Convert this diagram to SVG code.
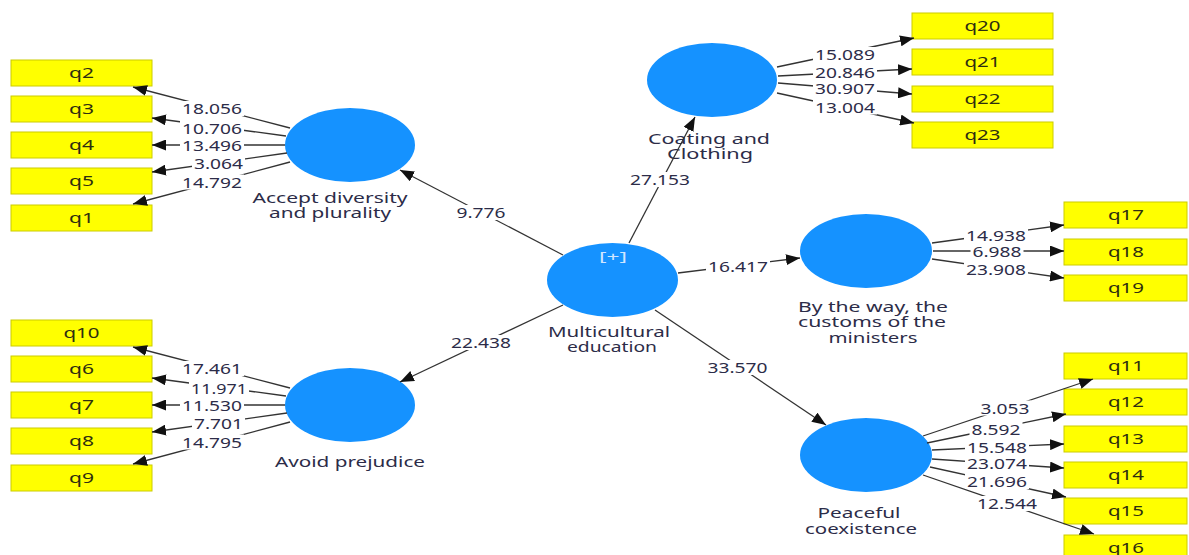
<svg xmlns="http://www.w3.org/2000/svg" width="1189" height="555" viewBox="0 0 1189 555">
<style>
.bg{fill:#ffffff}
.ind rect{fill:#ffff00;stroke:#cccc00;stroke-width:1}
.ind text{font-family:"Noto Sans","Liberation Sans",sans-serif;font-size:14px;fill:#2e2e10;text-anchor:middle}
.lv ellipse{fill:#1592ff}
.lv text{font-family:"Noto Sans","Liberation Sans",sans-serif;font-size:15px;fill:#2c2c48;text-anchor:middle}
.lv text.plus{fill:#cfe6ff;font-size:13px}
.edges line{stroke:#333333;stroke-width:1.3;marker-end:url(#ah)}
.lbl rect{fill:#ffffff}
.lbl text{font-family:"Noto Sans","Liberation Sans",sans-serif;font-size:15px;fill:#2c2c48;text-anchor:middle}
</style>
<defs>
<marker id="ah" viewBox="0 0 14 11" refX="14" refY="5.5" markerWidth="14" markerHeight="11" markerUnits="userSpaceOnUse" orient="auto">
<path d="M0,0 L14,5.5 L0,11 z" fill="#111111"/>
</marker>
</defs>
<rect class="bg" x="0" y="0" width="1189" height="555"/>

<!-- Latent variables -->
<g id="accept" class="lv">
<ellipse cx="350" cy="145" rx="65" ry="37"/>
<text x="330" y="203" textLength="155" lengthAdjust="spacingAndGlyphs">Accept diversity</text>
<text x="330" y="218" textLength="122" lengthAdjust="spacingAndGlyphs">and plurality</text>
</g>
<g id="avoid" class="lv">
<ellipse cx="350" cy="405" rx="65" ry="37"/>
<text x="350" y="467" textLength="150" lengthAdjust="spacingAndGlyphs">Avoid prejudice</text>
</g>
<g id="coating" class="lv">
<ellipse cx="712" cy="80" rx="65" ry="37"/>
<text x="709" y="144" textLength="122" lengthAdjust="spacingAndGlyphs">Coating and</text>
<text x="710" y="159" textLength="86" lengthAdjust="spacingAndGlyphs">Clothing</text>
</g>
<g id="multicultural" class="lv">
<ellipse cx="612.5" cy="280" rx="65.5" ry="37"/>
<text class="plus" x="613" y="261" textLength="28" lengthAdjust="spacingAndGlyphs">[+]</text>
<text x="609" y="337" textLength="122" lengthAdjust="spacingAndGlyphs">Multicultural</text>
<text x="612" y="352" textLength="90" lengthAdjust="spacingAndGlyphs">education</text>
</g>
<g id="bytheway" class="lv">
<ellipse cx="866" cy="251" rx="66" ry="37"/>
<text x="873" y="312" textLength="150" lengthAdjust="spacingAndGlyphs">By the way, the</text>
<text x="872" y="327" textLength="148" lengthAdjust="spacingAndGlyphs">customs of the</text>
<text x="873" y="343" textLength="89" lengthAdjust="spacingAndGlyphs">ministers</text>
</g>
<g id="peaceful" class="lv">
<ellipse cx="866" cy="455" rx="66" ry="37"/>
<text x="859" y="518" textLength="83" lengthAdjust="spacingAndGlyphs">Peaceful</text>
<text x="861" y="534" textLength="112" lengthAdjust="spacingAndGlyphs">coexistence</text>
</g>

<!-- Indicators -->
<g id="q2" class="ind"><rect x="11" y="60" width="141" height="26"/><text x="81.5" y="78" textLength="25" lengthAdjust="spacingAndGlyphs">q2</text></g>
<g id="q3" class="ind"><rect x="11" y="96" width="141" height="26"/><text x="81.5" y="114" textLength="25" lengthAdjust="spacingAndGlyphs">q3</text></g>
<g id="q4" class="ind"><rect x="11" y="132" width="141" height="26"/><text x="81.5" y="150" textLength="25" lengthAdjust="spacingAndGlyphs">q4</text></g>
<g id="q5" class="ind"><rect x="11" y="168" width="141" height="26"/><text x="81.5" y="186" textLength="25" lengthAdjust="spacingAndGlyphs">q5</text></g>
<g id="q1" class="ind"><rect x="11" y="205" width="141" height="26"/><text x="81.5" y="223" textLength="25" lengthAdjust="spacingAndGlyphs">q1</text></g>

<g id="q10" class="ind"><rect x="11" y="320" width="141" height="26"/><text x="81.5" y="338" textLength="36" lengthAdjust="spacingAndGlyphs">q10</text></g>
<g id="q6" class="ind"><rect x="11" y="356" width="141" height="26"/><text x="81.5" y="374" textLength="25" lengthAdjust="spacingAndGlyphs">q6</text></g>
<g id="q7" class="ind"><rect x="11" y="392" width="141" height="26"/><text x="81.5" y="410" textLength="25" lengthAdjust="spacingAndGlyphs">q7</text></g>
<g id="q8" class="ind"><rect x="11" y="428" width="141" height="26"/><text x="81.5" y="446" textLength="25" lengthAdjust="spacingAndGlyphs">q8</text></g>
<g id="q9" class="ind"><rect x="11" y="465" width="141" height="26"/><text x="81.5" y="483" textLength="25" lengthAdjust="spacingAndGlyphs">q9</text></g>

<g id="q20" class="ind"><rect x="912" y="13" width="141" height="26"/><text x="982.5" y="31" textLength="36" lengthAdjust="spacingAndGlyphs">q20</text></g>
<g id="q21" class="ind"><rect x="912" y="49" width="141" height="26"/><text x="982.5" y="67" textLength="36" lengthAdjust="spacingAndGlyphs">q21</text></g>
<g id="q22" class="ind"><rect x="912" y="86" width="141" height="26"/><text x="982.5" y="104" textLength="36" lengthAdjust="spacingAndGlyphs">q22</text></g>
<g id="q23" class="ind"><rect x="912" y="122" width="141" height="26"/><text x="982.5" y="140" textLength="36" lengthAdjust="spacingAndGlyphs">q23</text></g>

<g id="q17" class="ind"><rect x="1064" y="202" width="123" height="26"/><text x="1126" y="220" textLength="36" lengthAdjust="spacingAndGlyphs">q17</text></g>
<g id="q18" class="ind"><rect x="1064" y="239" width="123" height="26"/><text x="1126" y="257" textLength="36" lengthAdjust="spacingAndGlyphs">q18</text></g>
<g id="q19" class="ind"><rect x="1064" y="275" width="123" height="26"/><text x="1126" y="293" textLength="36" lengthAdjust="spacingAndGlyphs">q19</text></g>

<g id="q11" class="ind"><rect x="1064" y="353" width="123" height="26"/><text x="1126" y="371" textLength="36" lengthAdjust="spacingAndGlyphs">q11</text></g>
<g id="q12" class="ind"><rect x="1064" y="389" width="123" height="26"/><text x="1126" y="407" textLength="36" lengthAdjust="spacingAndGlyphs">q12</text></g>
<g id="q13" class="ind"><rect x="1064" y="426" width="123" height="26"/><text x="1126" y="444" textLength="36" lengthAdjust="spacingAndGlyphs">q13</text></g>
<g id="q14" class="ind"><rect x="1064" y="462" width="123" height="26"/><text x="1126" y="480" textLength="36" lengthAdjust="spacingAndGlyphs">q14</text></g>
<g id="q15" class="ind"><rect x="1064" y="498" width="123" height="26"/><text x="1126" y="516" textLength="36" lengthAdjust="spacingAndGlyphs">q15</text></g>
<g id="q16" class="ind"><rect x="1064" y="535" width="123" height="26"/><text x="1126" y="553" textLength="36" lengthAdjust="spacingAndGlyphs">q16</text></g>

<!-- Connectors -->
<g id="connectors" class="edges">
<line x1="290" y1="128" x2="133" y2="87"/>
<line x1="286" y1="136" x2="152" y2="118"/>
<line x1="285" y1="145" x2="152" y2="145"/>
<line x1="287" y1="153" x2="152" y2="172"/>
<line x1="290" y1="162" x2="133" y2="204"/>

<line x1="290" y1="388" x2="133" y2="347"/>
<line x1="286" y1="396" x2="152" y2="378"/>
<line x1="285" y1="405" x2="152" y2="405"/>
<line x1="287" y1="413" x2="152" y2="432"/>
<line x1="290" y1="422" x2="133" y2="464"/>

<line x1="777" y1="67" x2="914" y2="38"/>
<line x1="778" y1="76" x2="912" y2="69"/>
<line x1="778" y1="83" x2="912" y2="94"/>
<line x1="777" y1="93" x2="914" y2="123"/>

<line x1="932" y1="243" x2="1064" y2="225"/>
<line x1="933" y1="251" x2="1064" y2="251"/>
<line x1="932" y1="259" x2="1064" y2="278"/>

<line x1="923" y1="436" x2="1093" y2="379"/>
<line x1="927" y1="443" x2="1066" y2="414"/>
<line x1="932" y1="450" x2="1064" y2="444"/>
<line x1="932" y1="459" x2="1064" y2="468"/>
<line x1="930" y1="467" x2="1066" y2="497"/>
<line x1="923" y1="475" x2="1094" y2="534"/>

<line x1="563" y1="255" x2="400" y2="170"/>
<line x1="563" y1="305" x2="400" y2="382"/>
<line x1="629" y1="243" x2="695" y2="117"/>
<line x1="678" y1="273" x2="800" y2="258"/>
<line x1="655" y1="310" x2="826" y2="425"/>
</g>

<!-- Connector labels -->
<g id="labels" class="lbl">
<rect x="180" y="101" width="64" height="15"/><text x="212" y="114" textLength="60" lengthAdjust="spacingAndGlyphs">18.056</text>
<rect x="180" y="120.5" width="64" height="15"/><text x="212" y="133.5" textLength="60" lengthAdjust="spacingAndGlyphs">10.706</text>
<rect x="180" y="137.5" width="64" height="15"/><text x="212" y="150.5" textLength="60" lengthAdjust="spacingAndGlyphs">13.496</text>
<rect x="192" y="155.5" width="53" height="15"/><text x="218.5" y="168.5" textLength="49" lengthAdjust="spacingAndGlyphs">3.064</text>
<rect x="180" y="174.5" width="64" height="15"/><text x="212" y="187.5" textLength="60" lengthAdjust="spacingAndGlyphs">14.792</text>

<rect x="180" y="361" width="64" height="15"/><text x="212" y="374" textLength="60" lengthAdjust="spacingAndGlyphs">17.461</text>
<rect x="189" y="380.5" width="60" height="15"/><text x="219" y="393.5" textLength="56" lengthAdjust="spacingAndGlyphs">11.971</text>
<rect x="180" y="397.5" width="64" height="15"/><text x="212" y="410.5" textLength="60" lengthAdjust="spacingAndGlyphs">11.530</text>
<rect x="192" y="415.5" width="53" height="15"/><text x="218.5" y="428.5" textLength="49" lengthAdjust="spacingAndGlyphs">7.701</text>
<rect x="180" y="434.5" width="64" height="15"/><text x="212" y="447.5" textLength="60" lengthAdjust="spacingAndGlyphs">14.795</text>

<rect x="813" y="47" width="64" height="15"/><text x="845" y="60" textLength="60" lengthAdjust="spacingAndGlyphs">15.089</text>
<rect x="813" y="64.5" width="64" height="15"/><text x="845" y="77.5" textLength="60" lengthAdjust="spacingAndGlyphs">20.846</text>
<rect x="813" y="81" width="64" height="15"/><text x="845" y="94" textLength="60" lengthAdjust="spacingAndGlyphs">30.907</text>
<rect x="813" y="99.5" width="64" height="15"/><text x="845" y="112.5" textLength="60" lengthAdjust="spacingAndGlyphs">13.004</text>

<rect x="628" y="172" width="64" height="15"/><text x="660" y="185" textLength="60" lengthAdjust="spacingAndGlyphs">27.153</text>
<rect x="454.5" y="205" width="53" height="15"/><text x="481" y="218" textLength="49" lengthAdjust="spacingAndGlyphs">9.776</text>
<rect x="449" y="335" width="64" height="15"/><text x="481" y="348" textLength="60" lengthAdjust="spacingAndGlyphs">22.438</text>
<rect x="706" y="258.5" width="64" height="15"/><text x="738" y="271.5" textLength="60" lengthAdjust="spacingAndGlyphs">16.417</text>
<rect x="705.5" y="360" width="64" height="15"/><text x="737.5" y="373" textLength="60" lengthAdjust="spacingAndGlyphs">33.570</text>

<rect x="964" y="227.5" width="64" height="15"/><text x="996" y="240.5" textLength="60" lengthAdjust="spacingAndGlyphs">14.938</text>
<rect x="970.5" y="244" width="53" height="15"/><text x="997" y="257" textLength="49" lengthAdjust="spacingAndGlyphs">6.988</text>
<rect x="964" y="262" width="64" height="15"/><text x="996" y="275" textLength="60" lengthAdjust="spacingAndGlyphs">23.908</text>

<rect x="978.5" y="400.5" width="53" height="15"/><text x="1005" y="413.5" textLength="49" lengthAdjust="spacingAndGlyphs">3.053</text>
<rect x="969.5" y="422" width="53" height="15"/><text x="996" y="435" textLength="49" lengthAdjust="spacingAndGlyphs">8.592</text>
<rect x="965" y="440" width="64" height="15"/><text x="997" y="453" textLength="60" lengthAdjust="spacingAndGlyphs">15.548</text>
<rect x="965" y="455.5" width="64" height="15"/><text x="997" y="468.5" textLength="60" lengthAdjust="spacingAndGlyphs">23.074</text>
<rect x="965" y="474" width="64" height="15"/><text x="997" y="487" textLength="60" lengthAdjust="spacingAndGlyphs">21.696</text>
<rect x="975" y="496" width="64" height="15"/><text x="1007" y="509" textLength="60" lengthAdjust="spacingAndGlyphs">12.544</text>
</g>
</svg>
